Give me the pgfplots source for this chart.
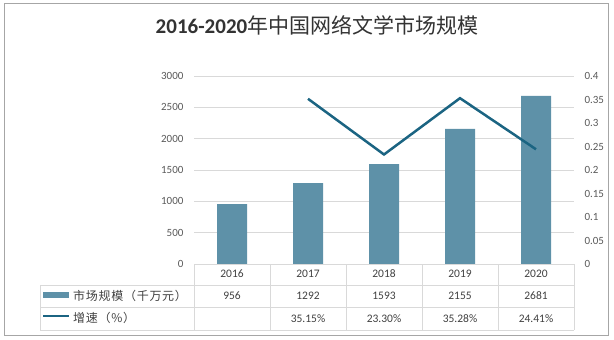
\documentclass[border=0pt]{standalone}
\usepackage{pgfplots}
\pgfplotsset{compat=1.18}
\usepackage{fontspec}
\setmainfont{Carlito}
\newfontfamily\cjk{Noto Sans CJK SC}
\newfontfamily\cjkw[LetterSpace=6]{Noto Sans CJK SC}
\definecolor{barc}{HTML}{5E91A8}
\definecolor{linec}{HTML}{1B6482}
\definecolor{gridc}{HTML}{D9D9D9}
\definecolor{tickc}{HTML}{595959}
\definecolor{txtc}{HTML}{404040}
\definecolor{titc}{HTML}{333333}
\definecolor{bordc}{HTML}{A6A6A6}
\begin{document}
\begin{tikzpicture}
\useasboundingbox (0pt,0pt) rectangle (614pt,-340pt);
\begin{axis}[
  at={(194pt,-264pt)}, anchor=south west,
  scale only axis, width=380pt, height=188pt,
  xmin=-0.5, xmax=4.5, ymin=0, ymax=3000,
  ytick={0,500,...,3000},
  xtick=data, xticklabels={2016,2017,2018,2019,2020},
  ymajorgrids, grid style={gridc, line width=0.75pt},
  axis line style={draw=none},
  major tick length=0pt,
  tick label style={font=\fontsize{11}{13}\selectfont},
  yticklabel style={tickc, xshift=-7pt},
  xticklabel style={txtc, yshift=-2.5pt, font=\fontsize{11.5}{13}\selectfont},
  /pgf/number format/assume math mode=true,
  /pgf/number format/1000 sep={},
]
\addplot[ybar, bar width=30pt, fill=barc, draw=none] coordinates {(0,956) (1,1292) (2,1593) (3,2155) (4,2681)};
\end{axis}
\begin{axis}[
  at={(194pt,-264pt)}, anchor=south west,
  scale only axis, width=380pt, height=188pt,
  xmin=-0.5, xmax=4.5, ymin=0, ymax=0.4,
  ytick={0,0.05,...,0.4},
  axis y line*=right, axis x line=none,
  axis line style={draw=none},
  major tick length=0pt,
  yticklabel style={tickc, xshift=7pt, font=\fontsize{11}{13}\selectfont},
  /pgf/number format/assume math mode=true,
  /pgf/number format/fixed,
  /pgf/number format/precision=2,
]
\addplot[linec, line width=2.5pt] coordinates {(1,0.3515) (2,0.233) (3,0.3528) (4,0.2441)};
\end{axis}
\begin{scope}[x=1pt,y=-1pt]
  \draw[bordc, line width=1pt] (4.5,3.5) rectangle (608.5,335.5);
  \node[titc, font=\fontsize{21}{24}\selectfont] at (317,25) {\textbf{2016-2020}{\cjk 年中国网络文学市场规模}};
  % table lines
  \draw[gridc, line width=0.75pt] (194,264) -- (574,264);
  \foreach \yy in {285,307,330} \draw[gridc, line width=0.75pt] (40,\yy) -- (574,\yy);
  \draw[gridc, line width=0.75pt] (40,285) -- (40,330);
  \foreach \xx in {194,270,346,422,498,574} \draw[gridc, line width=0.75pt] (\xx,264) -- (\xx,330);
  % legend keys
  \fill[barc] (43,292) rectangle (69,298);
  \draw[linec, line width=2.5pt] (43,316) -- (69,316);
  \node[txtc, anchor=west, inner sep=0pt, font=\fontsize{12}{14}\selectfont\cjkw] at (73,295.5) {市场规模（千万元）};
  \node[txtc, anchor=west, inner sep=0pt, font=\fontsize{12}{14}\selectfont\cjkw] at (73,317.5) {增速（\%）};
  % table values
  \foreach \xx/\vv in {232/956, 308/1292, 384/1593, 460/2155, 536/2681}
    \node[txtc, font=\fontsize{11.5}{13}\selectfont] at (\xx,296) {\vv};
  \foreach \xx/\vv in {308/35.15\%, 384/23.30\%, 460/35.28\%, 536/24.41\%}
    \node[txtc, font=\fontsize{11.5}{13}\selectfont] at (\xx,318.5) {\vv};
\end{scope}
\end{tikzpicture}
\end{document}
